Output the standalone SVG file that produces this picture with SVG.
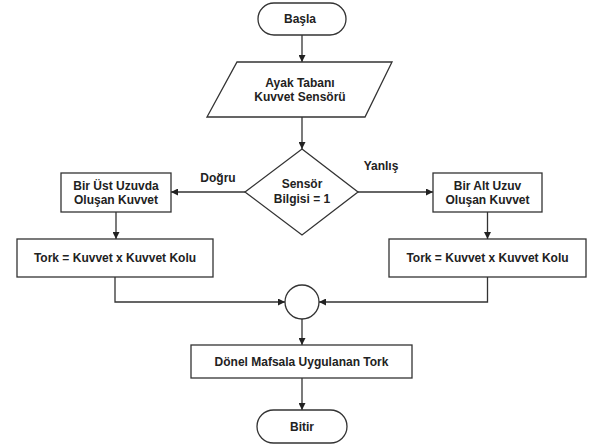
<svg xmlns="http://www.w3.org/2000/svg" width="589" height="446" viewBox="0 0 589 446">
<style>
.s{fill:#fff;stroke:#333;stroke-width:1.3}
.c{fill:none;stroke:#333;stroke-width:1.3}
text{font-family:"Liberation Sans",Arial,sans-serif;font-size:12px;font-weight:bold;fill:#222;text-anchor:middle}
</style>
<defs>
<marker id="a" viewBox="0 0 10 10" refX="10" refY="5" markerWidth="7" markerHeight="7" markerUnits="userSpaceOnUse" orient="auto">
<path d="M0,0 L10,5 L0,10 z" fill="#222"/>
</marker>
</defs>
<rect width="589" height="446" fill="#fff"/>
<g id="connectors">
<path class="c" d="M302,35 V62" marker-end="url(#a)"/>
<path class="c" d="M302,117 V149" marker-end="url(#a)"/>
<path class="c" d="M245,192 H171" marker-end="url(#a)"/>
<path class="c" d="M358,192 H433" marker-end="url(#a)"/>
<path class="c" d="M116,212 V239" marker-end="url(#a)"/>
<path class="c" d="M487.5,212 V239" marker-end="url(#a)"/>
<path class="c" d="M115,277 V302 H285" marker-end="url(#a)"/>
<path class="c" d="M487.5,277 V302 H319" marker-end="url(#a)"/>
<path class="c" d="M302,319 V345" marker-end="url(#a)"/>
<path class="c" d="M302,378 V410" marker-end="url(#a)"/>
<text x="218" y="181.5">Doğru</text>
<text x="381" y="169.5">Yanlış</text>
</g>
<g id="basla">
<rect class="s" x="258" y="3" width="88" height="32" rx="16"/>
<text x="300" y="23">Başla</text>
</g>
<g id="sensor">
<path class="s" d="M237,62 H392 L365,117 H207 Z"/>
<text x="300" y="87">Ayak Tabanı</text>
<text x="300" y="101">Kuvvet Sensörü</text>
</g>
<g id="karar">
<path class="s" d="M302,149 L358,192 L302,235 L245,192 Z"/>
<text x="302" y="187.5">Sensör</text>
<text x="302" y="202.5">Bilgisi = 1</text>
</g>
<g id="ust">
<rect class="s" x="61" y="173" width="110" height="39"/>
<text x="116" y="189.5">Bir Üst Uzuvda</text>
<text x="116" y="203.5">Oluşan Kuvvet</text>
</g>
<g id="alt">
<rect class="s" x="433" y="173" width="109" height="39"/>
<text x="487.5" y="189.5">Bir Alt Uzuv</text>
<text x="487.5" y="203.5">Oluşan Kuvvet</text>
</g>
<g id="tork1">
<rect class="s" x="17" y="239" width="196" height="38"/>
<text x="115" y="261.5">Tork = Kuvvet x Kuvvet Kolu</text>
</g>
<g id="tork2">
<rect class="s" x="389" y="239" width="197" height="38"/>
<text x="487.5" y="261.5">Tork = Kuvvet x Kuvvet Kolu</text>
</g>
<g id="birlesim">
<circle class="s" cx="302" cy="302" r="17"/>
</g>
<g id="donel">
<rect class="s" x="191" y="345" width="221" height="33"/>
<text x="301.5" y="366">Dönel Mafsala Uygulanan Tork</text>
</g>
<g id="bitir">
<rect class="s" x="257" y="410" width="90" height="33" rx="16.5"/>
<text x="302" y="431">Bitir</text>
</g>
</svg>
